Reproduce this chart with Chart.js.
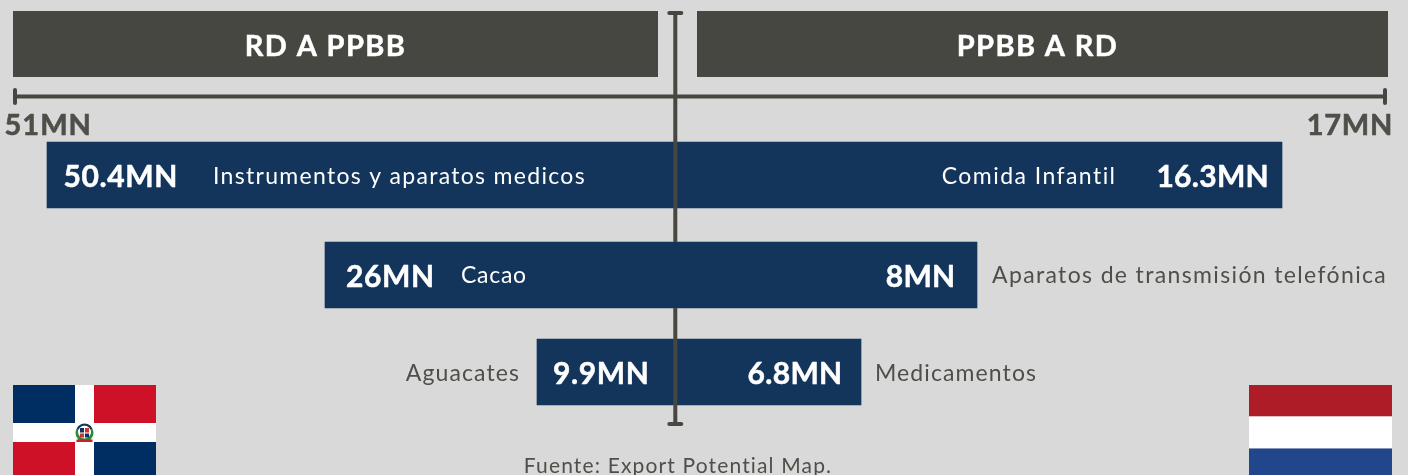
<!DOCTYPE html>
<html lang="es">
<head>
<meta charset="utf-8">
<title>RD A PPBB / PPBB A RD</title>
<script src="https://cdn.jsdelivr.net/npm/chart.js@4"></script>
<style>html,body{margin:0;padding:0;background:#d9d9d9;overflow:hidden}canvas{display:block}</style>
</head>
<body>
<canvas id="c" width="1408" height="475"></canvas>
<script>
// ---- data ----
const rows = ["1", "2", "3"];
const axisLeftMax = 51;
const axisRightMax = 17;
const axisLeftLabel = "51MN";
const axisRightLabel = "17MN";
const headerLeft = "RD A PPBB";
const headerRight = "PPBB A RD";
// bar lengths read against the axis of each side (the picture does not draw them to the printed figure)
const barsLeft = [48.527, 27.045, 10.664];
const barsRight = [14.534, 7.231, 4.4535];
const valueLabelsLeft = ["50.4MN", "26MN", "9.9MN"];
const valueLabelsRight = ["16.3MN", "8MN", "6.8MN"];
const productsLeft = ["Instrumentos y aparatos medicos", "Cacao", "Aguacates"];
const productsRight = ["Comida Infantil", "Aparatos de transmisión telefónica", "Medicamentos"];
const source = "Fuente: Export Potential Map.";

// ---- style ----
const BG = "#d9d9d9", DARK = "#474741", NAVY = "#13355b", GREY = "#4f4f4a", W = 1408, H = 475;
const FONT = "Lato";
const CX = 675, AXIS_L = 15, AXIS_R = 1385;
const kL = (CX - AXIS_L) / axisLeftMax, kR = (AXIS_R - CX) / axisRightMax;
const rowNudge = [0, 1.5, 0];

function txt(ctx, s, x, y, font, color, align, spacing, heavy) {
  ctx.save();
  ctx.font = font; ctx.fillStyle = color; ctx.textAlign = align || "left";
  ctx.textBaseline = "alphabetic"; ctx.letterSpacing = (spacing || 0) + "px";
  if (heavy) { ctx.strokeStyle = color; ctx.lineWidth = heavy; ctx.lineJoin = "round"; ctx.strokeText(s, x, y); }
  ctx.fillText(s, x, y);
  ctx.restore();
}
function seg(ctx, x1, y1, x2, y2, w, cap) {
  ctx.save(); ctx.strokeStyle = DARK; ctx.lineWidth = w; ctx.lineCap = cap || "butt";
  ctx.beginPath(); ctx.moveTo(x1, y1); ctx.lineTo(x2, y2); ctx.stroke(); ctx.restore();
}
function flagDR(ctx) {
  const x = 13, y = 385, w = 143, h = 90;
  ctx.fillStyle = "#002d62"; ctx.fillRect(x, y, w, h);
  ctx.fillStyle = "#ce1126"; ctx.fillRect(x + 62, y, w - 62, 38); ctx.fillRect(x, y + 57, 81, h - 57);
  ctx.fillStyle = "#002d62"; ctx.fillRect(x + 81, y + 57, w - 81, h - 57);
  ctx.fillStyle = "#fff"; ctx.fillRect(x + 62, y, 19, h); ctx.fillRect(x, y + 38, w, 19);
  // coat of arms
  const a = x + 71.5, b = y + 48;
  ctx.fillStyle = "#2f8a3c"; ctx.beginPath(); ctx.arc(a, b, 9, 0, Math.PI * 2); ctx.fill();
  ctx.fillStyle = "#fff"; ctx.beginPath(); ctx.arc(a, b - 1, 6.5, 0, Math.PI * 2); ctx.fill();
  ctx.fillStyle = "#12305e"; ctx.fillRect(a - 4.5, b - 5, 4, 4.5); ctx.fillStyle = "#d0312d"; ctx.fillRect(a + 0.5, b - 5, 4, 4.5);
  ctx.fillStyle = "#d0312d"; ctx.fillRect(a - 4.5, b + 0.5, 4, 4); ctx.fillStyle = "#12305e"; ctx.fillRect(a + 0.5, b + 0.5, 4, 4);
  ctx.strokeStyle = "#14365c"; ctx.lineWidth = 2; ctx.beginPath(); ctx.arc(a, b - 1, 7.5, Math.PI * 1.12, Math.PI * 1.88); ctx.stroke();
  ctx.fillStyle = "#c8202a"; ctx.fillRect(a - 8, b + 6.5, 16, 2.5);
}
function flagNL(ctx) {
  const x = 1249, w = 143;
  ctx.fillStyle = "#ae1c28"; ctx.fillRect(x, 385, w, 31.5);
  ctx.fillStyle = "#fff"; ctx.fillRect(x, 416.5, w, 32);
  ctx.fillStyle = "#21468b"; ctx.fillRect(x, 448.5, w, 27);
}

const furniture = {
  id: "furniture",
  afterDatasetsUpdate(chart) {
    chart.data.datasets.forEach((d, i) => chart.getDatasetMeta(i).data.forEach((el, r) => { el.y += rowNudge[r]; }));
  },
  beforeDatasetsDraw(chart) {
    const ctx = chart.ctx, xL = chart.scales.xL, xR = chart.scales.xR;
    ctx.fillStyle = DARK; ctx.fillRect(13, 11, 645, 66); ctx.fillRect(697, 11, 691, 66);
    txt(ctx, headerLeft, 325.5, 56, "bold 29px " + FONT, "#fff", "center", 1.4, 0.5);
    txt(ctx, headerRight, 1037.5, 56, "bold 29px " + FONT, "#fff", "center", 1.4, 0.5);
    const l = xL.getPixelForValue(axisLeftMax), r = xR.getPixelForValue(axisRightMax);
    seg(ctx, l, 96.5, r, 96.5, 4);
    seg(ctx, l, 90, l, 103, 4, "round"); seg(ctx, r, 90, r, 103, 4, "round");
    txt(ctx, axisLeftLabel, 4.5, 135, "bold 29px " + FONT, GREY, "left", 1, 0.6);
    txt(ctx, axisRightLabel, 1393, 135, "bold 29px " + FONT, GREY, "right", 0.7, 0.6);
    flagDR(ctx); flagNL(ctx);
    txt(ctx, source, 678, 473, "21px " + FONT, GREY, "center", 1.15);
  },
  afterDatasetsDraw(chart) {
    const ctx = chart.ctx;
    const lm = chart.getDatasetMeta(0).data, rm = chart.getDatasetMeta(1).data;
    // vertical axis: crosses rows one and three, passes behind row two
    const x = xCenter(chart) + 0.3, top = lm[1].y - 33, bot = lm[1].y + 33;
    seg(ctx, x, 13, x, top, 4); seg(ctx, x, bot, x, 424, 4);
    seg(ctx, x - 6, 13, x + 6, 13, 4, "round"); seg(ctx, x - 6, 424, x + 6, 424, 4, "round");

    const big = "bold 30px " + FONT, small = "23px " + FONT;
    rows.forEach((_, i) => {
      const yc = lm[i].y, vy = yc + 12, ly = yc + 9;
      const lx = lm[i].x, rx = rm[i].x;
      const vl = [16.5, 21, 16][i], vr = [13, 21.5, 18.5][i];
      txt(ctx, valueLabelsLeft[i], lx + vl, vy, big, "#fff", "left", 0.6, 0.5);
      txt(ctx, valueLabelsRight[i], rx - vr, vy, big, "#fff", "right", 0.3, 0.5);
      if (i === 0) {
        txt(ctx, productsLeft[i], 213, ly, small, "#fff", "left", 1.3);
        txt(ctx, productsRight[i], 1116.5, ly, small, "#fff", "right", 1.45);
      } else if (i === 1) {
        txt(ctx, productsLeft[i], 461, ly - 1, small, "#fff", "left", 0.7);
        txt(ctx, productsRight[i], rx + 15, ly - 1, small, GREY, "left", 1.36);
      } else {
        txt(ctx, productsLeft[i], lx - 17, ly, small, GREY, "right", 1.1);
        txt(ctx, productsRight[i], rx + 14, ly, small, GREY, "left", 1.1);
      }
    });
  }
};
function xCenter(chart) { return chart.scales.xR.getPixelForValue(0); }

document.fonts.load("bold 30px " + FONT).finally(() => {
  new Chart(document.getElementById("c"), {
    type: "bar",
    data: {
      labels: rows,
      datasets: [
        { label: headerLeft, data: barsLeft, xAxisID: "xL", backgroundColor: NAVY, barThickness: 66, grouped: false, borderWidth: 0 },
        { label: headerRight, data: barsRight, xAxisID: "xR", backgroundColor: NAVY, barThickness: 66, grouped: false, borderWidth: 0 }
      ]
    },
    options: {
      indexAxis: "y",
      responsive: false,
      animation: false,
      layout: { padding: { top: 125.75, bottom: 53.75, left: 0, right: 0 } },
      plugins: { legend: { display: false }, tooltip: { enabled: false }, title: { display: false } },
      scales: {
        y: { display: false },
        xL: { type: "linear", display: false, reverse: true, min: -(W - CX) / kL, max: CX / kL },
        xR: { type: "linear", display: false, min: -CX / kR, max: (W - CX) / kR }
      }
    },
    plugins: [furniture]
  });
});
</script>
</body>
</html>
